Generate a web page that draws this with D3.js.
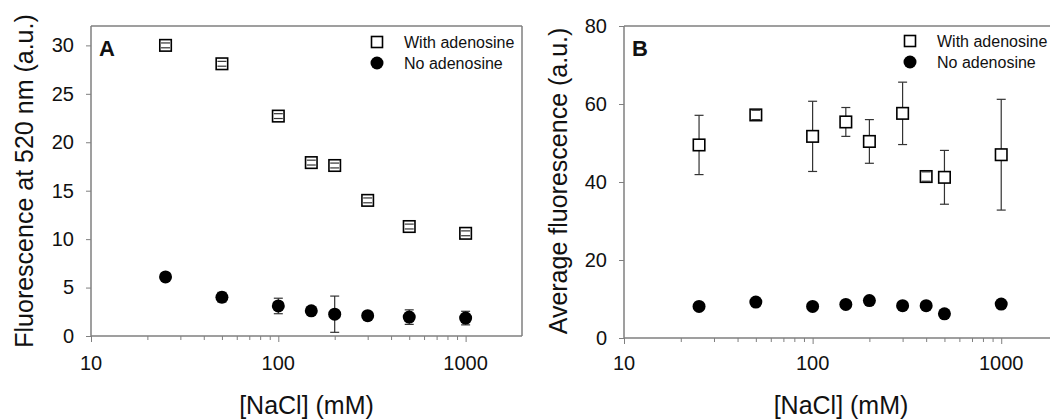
<!DOCTYPE html>
<html>
<head>
<meta charset="utf-8">
<script src="https://cdn.jsdelivr.net/npm/d3@7"></script>
<style>
  html, body { margin: 0; padding: 0; background: #fff; }
  svg { display: block; font-family: Arial, "Liberation Sans", sans-serif; }
</style>
</head>
<body>
<svg id="chart" width="1050" height="419"></svg>
<script>
// ---- Data ----
const naclA = [25, 50, 100, 150, 200, 300, 500, 1000];
const aWith = [30.0, 28.1, 22.7, 17.9, 17.6, 14.0, 11.3, 10.6];
const aWithErr = [0.25, 0.25, 0.25, 0.25, 0.25, 0.25, 0.25, 0.25];
const aNo = [6.1, 4.0, 3.1, 2.6, 2.25, 2.1, 1.95, 1.85];
const aNoErr = [0.15, 0.5, 0.8, 0.2, 1.87, 0.2, 0.75, 0.7];

const naclB = [25, 50, 100, 150, 200, 300, 400, 500, 1000];
const bWith = [49.5, 57.2, 51.7, 55.4, 50.4, 57.6, 41.4, 41.2, 47.0];
const bWithErr = [7.6, 1.2, 9.0, 3.7, 5.6, 8.0, 1.2, 6.9, 14.2];
const bNo = [8.1, 9.2, 8.1, 8.6, 9.6, 8.3, 8.3, 6.2, 8.7];
const bNoErr = [0.3, 0.3, 0.3, 0.3, 0.3, 0.3, 0.3, 0.3, 0.3];

const yTicksA = [0, 5, 10, 15, 20, 25, 30];
const yTicksB = [0, 20, 40, 60, 80];
const xTickLabels = [10, 100, 1000];
const legendLabels = ["With adenosine", "No adenosine"];

const svg = d3.select("#chart");
const axisColor = "#7f7f7f";

function panel(cfg) {
  const x = d3.scaleLog().domain([10, 2000]).range([cfg.left, cfg.right]);
  const y = d3.scaleLinear().domain(cfg.yDomain).range([cfg.bottom, cfg.top]);
  const g = svg.append("g");

  // frame: top and right
  g.append("line").attr("x1", cfg.left).attr("x2", cfg.right)
    .attr("y1", cfg.top).attr("y2", cfg.top)
    .attr("stroke", axisColor).attr("stroke-width", 1.5);
  g.append("line").attr("x1", cfg.right).attr("x2", cfg.right)
    .attr("y1", cfg.top).attr("y2", cfg.bottom)
    .attr("stroke", axisColor).attr("stroke-width", 1.5);

  // x axis with minor ticks
  const allTicks = x.ticks();
  const xAxis = d3.axisBottom(x)
    .tickValues(allTicks.filter(v => v <= 1000))
    .tickSize(4)
    .tickFormat(() => "");
  const gx = g.append("g").attr("transform", `translate(0,${cfg.bottom})`).call(xAxis);
  gx.select(".domain").attr("stroke", axisColor).attr("stroke-width", 1.5)
    .attr("d", `M${cfg.left},0H${cfg.right}`);
  gx.selectAll(".tick line").attr("stroke", axisColor).attr("stroke-width", 1)
    .attr("y2", d => xTickLabels.includes(d) ? 6 : 4);
  // x tick labels
  g.selectAll(".xl").data(xTickLabels).enter().append("text")
    .attr("x", d => x(d)).attr("y", 370)
    .attr("text-anchor", "middle").attr("font-size", 20).attr("fill", "#111")
    .text(d => d);

  // y axis
  const yAxis = d3.axisLeft(y).tickValues(cfg.yTicks).tickSize(5).tickPadding(12);
  const gy = g.append("g").attr("transform", `translate(${cfg.left},0)`).call(yAxis);
  gy.select(".domain").attr("stroke", axisColor).attr("stroke-width", 1.5)
    .attr("d", `M0,${cfg.top}V${cfg.bottom}`);
  gy.selectAll(".tick line").attr("stroke", axisColor).attr("stroke-width", 1);
  gy.selectAll(".tick text").attr("font-size", 20).attr("fill", "#111")
    .attr("font-family", "Arial, 'Liberation Sans', sans-serif");

  // titles
  g.append("text").attr("x", (cfg.left + cfg.right) / 2).attr("y", 414)
    .attr("text-anchor", "middle").attr("font-size", 25).attr("fill", "#111")
    .text("[NaCl] (mM)");
  g.append("text")
    .attr("transform", `translate(${cfg.ytx},${cfg.yty}) rotate(-90)`)
    .attr("text-anchor", "middle").attr("font-size", 25).attr("fill", "#111")
    .text(cfg.ytitle);

  // panel letter
  g.append("text").attr("x", cfg.left + 8).attr("y", 56)
    .attr("font-size", 22).attr("font-weight", "bold").attr("fill", "#111")
    .text(cfg.letter);

  const capW = 4.5;
  function errorBars(xs, ys, es) {
    const eg = g.append("g");
    eg.selectAll("line.v").data(xs).enter().append("line")
      .attr("x1", (d) => x(d)).attr("x2", (d) => x(d))
      .attr("y1", (d, i) => y(ys[i] + es[i])).attr("y2", (d, i) => y(ys[i] - es[i]))
      .attr("stroke", "#333").attr("stroke-width", 1.2);
    return eg;
  }
  function caps(xs, ys, es) {
    const cg = g.append("g");
    xs.forEach((d, i) => {
      [ys[i] + es[i], ys[i] - es[i]].forEach(v => {
        cg.append("line").attr("x1", x(d) - capW).attr("x2", x(d) + capW)
          .attr("y1", y(v)).attr("y2", y(v))
          .attr("stroke", "#333").attr("stroke-width", 1.2);
      });
    });
  }

  // No adenosine: circles (error bars behind)
  errorBars(cfg.xs, cfg.no, cfg.noErr);
  caps(cfg.xs, cfg.no, cfg.noErr);
  g.selectAll("circle.no").data(cfg.xs).enter().append("circle")
    .attr("cx", d => x(d)).attr("cy", (d, i) => y(cfg.no[i])).attr("r", 6.5)
    .attr("fill", "#000");

  // With adenosine: squares
  errorBars(cfg.xs, cfg.with, cfg.withErr);
  const s = 11.5;
  g.selectAll("rect.w").data(cfg.xs).enter().append("rect")
    .attr("x", d => x(d) - s / 2).attr("y", (d, i) => y(cfg.with[i]) - s / 2)
    .attr("width", s).attr("height", s)
    .attr("fill", "#fff").attr("stroke", "#000").attr("stroke-width", 1.6);
  caps(cfg.xs, cfg.with, cfg.withErr);

  // legend
  const lg = g.append("g");
  lg.append("rect").attr("x", cfg.legX - 5.5).attr("y", cfg.legY - 5.5)
    .attr("width", 11).attr("height", 11)
    .attr("fill", "#fff").attr("stroke", "#000").attr("stroke-width", 1.6);
  lg.append("circle").attr("cx", cfg.legX).attr("cy", cfg.legY + 21).attr("r", 6.5).attr("fill", "#000");
  legendLabels.forEach((t, i) => {
    lg.append("text").attr("x", cfg.legX + 27).attr("y", cfg.legY + 5.5 + i * 21)
      .attr("font-size", 16).attr("fill", "#111").text(t);
  });
}

panel({
  left: 91, right: 522, top: 26, bottom: 336, yDomain: [0, 32], yTicks: yTicksA,
  xs: naclA, with: aWith, withErr: aWithErr, no: aNo, noErr: aNoErr,
  ytitle: "Fluorescence at 520 nm (a.u.)", ytx: 33, yty: 181, letter: "A",
  legX: 377, legY: 42
});
panel({
  left: 624, right: 1058, top: 26, bottom: 338, yDomain: [0, 80], yTicks: yTicksB,
  xs: naclB, with: bWith, withErr: bWithErr, no: bNo, noErr: bNoErr,
  ytitle: "Average fluorescence (a.u.)", ytx: 567, yty: 181, letter: "B",
  legX: 910, legY: 41
});
</script>
</body>
</html>
